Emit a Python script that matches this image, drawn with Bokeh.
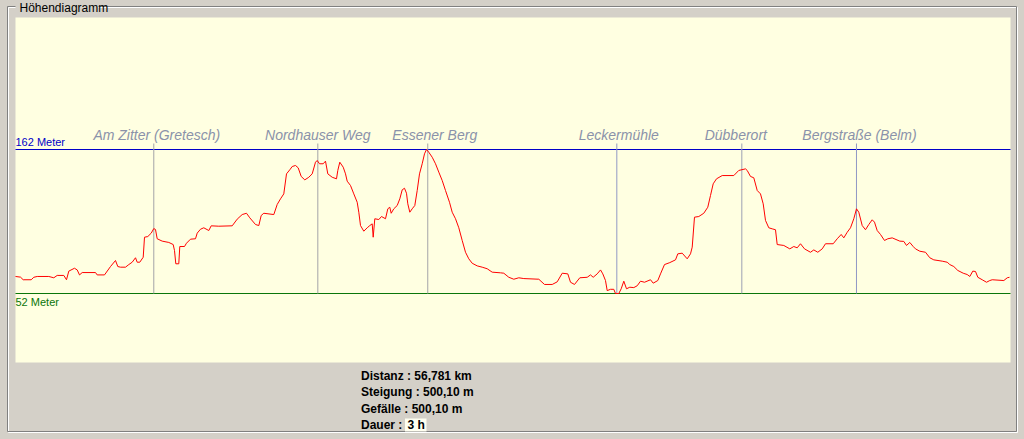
from bokeh.plotting import figure
from bokeh.models import Range1d, ColumnDataSource, GlobalInlineStyleSheet
from bokeh.core.properties import value
from bokeh.embed import file_html
from bokeh.resources import INLINE

# ---------------- data ----------------
title = "Höhendiagramm"
dist_km = [0.000, 0.286, 0.440, 0.897, 1.045, 1.240, 1.902, 2.188, 2.382, 2.759,
           2.913, 3.045, 3.370, 3.525, 3.656, 3.810, 4.570, 4.667, 5.084, 5.427,
           5.712, 5.844, 5.998, 6.284, 6.472, 6.666, 6.855, 6.952, 7.100, 7.295,
           7.369, 7.557, 7.752, 7.900, 7.997, 8.094, 8.380, 8.757, 9.008, 9.083,
           9.157, 9.328, 9.385, 9.654, 9.768, 9.997, 10.282, 10.379, 10.568, 10.756,
           11.042, 11.179, 11.613, 12.379, 12.664, 12.950, 13.196, 13.384, 13.710, 13.899,
           14.035, 14.184, 14.755, 14.949, 15.138, 15.326, 15.481, 15.669, 15.806, 15.995,
           16.149, 16.320, 16.526, 16.754, 16.949, 17.137, 17.234, 17.366, 17.577, 17.708,
           17.840, 18.091, 18.337, 18.411, 18.525, 18.720, 18.851, 18.948, 19.137, 19.325,
           19.519, 19.611, 19.708, 19.896, 20.091, 20.239, 20.376, 20.433, 20.525, 20.753,
           20.907, 21.136, 21.267, 21.381, 21.461, 21.610, 21.804, 21.953, 22.090, 22.221,
           22.335, 22.410, 22.524, 22.661, 22.810, 22.947, 23.078, 23.232, 23.364, 23.478,
           23.609, 23.804, 23.992, 24.181, 24.375, 24.563, 24.792, 24.946, 25.135, 25.323,
           25.517, 25.706, 25.894, 26.088, 26.374, 26.659, 26.945, 27.231, 27.705, 27.893,
           28.179, 28.465, 28.750, 29.036, 29.893, 30.219, 30.659, 30.944, 31.230, 31.550,
           31.704, 31.932, 32.235, 32.658, 32.846, 33.000, 33.229, 33.418, 33.549, 33.703,
           33.800, 33.989, 34.177, 34.274, 34.463, 34.600, 34.749, 34.903, 35.092, 35.320,
           35.514, 35.703, 35.931, 36.274, 36.428, 36.691, 36.845, 37.073, 37.376, 37.702,
           37.833, 38.085, 38.370, 38.559, 38.656, 38.787, 39.032, 39.318, 39.546, 39.701,
           39.855, 40.044, 40.369, 41.032, 41.317, 41.700, 41.797, 41.986, 42.174, 42.369,
           42.557, 42.711, 42.843, 43.031, 43.225, 43.414, 43.511, 43.888, 44.231, 44.459,
           44.653, 44.842, 45.071, 45.413, 45.602, 45.830, 46.082, 46.270, 46.710, 46.939,
           47.167, 47.316, 47.510, 47.699, 47.887, 48.041, 48.172, 48.367, 48.555, 48.744,
           48.938, 49.069, 49.223, 49.412, 49.640, 49.829, 50.080, 50.514, 50.743, 50.897,
           51.085, 51.280, 51.411, 51.657, 51.983, 52.228, 52.457, 52.937, 53.222, 53.371,
           53.600, 53.828, 54.137, 54.365, 54.514, 54.685, 54.839, 54.971, 55.222, 55.468,
           55.656, 55.794, 56.457, 56.651, 56.781]
elev_m = [65.0, 64.5, 62.5, 62.5, 64.4, 65.0, 65.0, 64.0, 65.8, 65.8,
          62.5, 69.1, 71.3, 70.0, 66.2, 68.0, 68.0, 66.2, 66.2, 72.6,
          77.2, 72.6, 72.1, 72.1, 74.1, 75.9, 79.3, 75.9, 75.9, 79.7,
          95.0, 95.5, 98.1, 101.6, 100.9, 93.8, 92.0, 91.0, 89.4, 84.8,
          74.7, 74.7, 87.9, 87.9, 90.4, 93.5, 93.8, 98.1, 101.1, 102.2,
          100.1, 103.7, 103.4, 103.7, 108.8, 112.3, 113.3, 109.8, 104.7, 103.9,
          111.6, 113.3, 112.3, 120.0, 124.3, 128.1, 143.4, 146.5, 149.0, 149.8,
          148.0, 141.4, 138.8, 140.8, 143.4, 152.3, 153.6, 151.1, 151.1, 153.1,
          143.4, 140.8, 139.6, 146.0, 152.3, 148.5, 143.4, 137.8, 134.5, 128.1,
          121.7, 114.1, 103.9, 99.6, 102.2, 103.9, 105.2, 95.0, 109.1, 108.5,
          110.8, 109.1, 116.7, 117.9, 113.3, 116.7, 119.2, 124.3, 131.2, 132.4,
          128.6, 120.5, 114.1, 116.7, 119.2, 130.7, 143.4, 151.1, 158.7, 162.0,
          159.9, 156.1, 151.1, 144.7, 138.3, 130.7, 121.7, 114.1, 109.1, 102.2,
          92.5, 83.5, 78.5, 75.1, 73.1, 72.1, 70.9, 68.3, 67.8, 67.5,
          64.4, 62.9, 64.0, 63.4, 62.9, 58.9, 58.9, 60.9, 67.5, 67.0,
          60.6, 58.9, 64.0, 64.4, 66.2, 64.4, 67.0, 70.0, 67.0, 61.9,
          54.2, 55.2, 55.2, 52.0, 52.0, 55.6, 61.4, 55.6, 56.8, 56.5,
          57.9, 61.4, 60.6, 62.5, 59.9, 61.9, 67.0, 74.1, 75.6, 77.7,
          82.3, 82.8, 78.5, 82.3, 87.4, 110.3, 110.8, 113.3, 117.9, 126.9,
          135.8, 139.6, 142.1, 142.1, 146.0, 147.2, 146.0, 141.4, 140.4, 130.7,
          128.1, 120.5, 107.8, 102.2, 101.4, 100.7, 89.4, 88.7, 86.1, 87.9,
          86.9, 90.0, 86.1, 83.5, 85.3, 83.5, 86.1, 90.0, 90.0, 93.8,
          97.1, 94.5, 98.8, 102.2, 109.1, 116.7, 114.1, 103.9, 100.7, 104.7,
          108.3, 106.5, 100.1, 97.1, 92.5, 93.8, 94.5, 92.0, 91.8, 88.7,
          91.0, 87.9, 86.1, 84.3, 83.5, 79.3, 77.7, 76.7, 75.9, 74.1,
          72.6, 69.6, 67.5, 66.5, 65.0, 69.1, 68.8, 64.4, 62.5, 60.6,
          61.9, 62.5, 61.9, 64.0, 64.4]
waypoint_names = ["Am Zitter (Gretesch)", "Nordhauser Weg", "Essener Berg",
                  "Leckermühle", "Dübberort", "Bergstraße (Belm)"]
waypoint_km = [7.90, 17.27, 23.55, 34.35, 41.49, 48.04]
waypoint_colors = ["#A4A4A8", "#A4A4A8", "#A4A4A8", "#9098C4", "#9CA0B4", "#9098C4"]
label_shift_px = [3, 0, 7, 2, -6, 3]
elev_max = 162
elev_min = 52
total_km = 56.781
climb_m = 500.10
descent_m = 500.10
duration_h = 3

# ---------------- layout helpers ----------------
W, H = 1024, 439
PX_L, PX_R = 15.0, 1009.0
PY_MAX, PY_MIN = 149.0, 293.0
SX = (PX_R - PX_L) / total_km
SY = (PY_MIN - PY_MAX) / (elev_max - elev_min)
TDY = -5  # text baseline correction (px)


def X(px):
    return (px - PX_L) / SX


def Y(py):
    return elev_max - (py - PY_MAX) / SY


BG = "#D4D0C8"
PANEL = "#FFFFE1"
FONT = value("Liberation Sans")

p = figure(width=W, height=H, x_range=Range1d(X(0), X(W)), y_range=Range1d(Y(H), Y(0)),
           output_backend="svg", toolbar_location=None, x_axis_type=None, y_axis_type=None,
           min_border=0)
p.outline_line_color = None
p.background_fill_color = BG
p.border_fill_color = BG
p.grid.visible = False
p.stylesheets = [GlobalInlineStyleSheet(
    css="html, body { margin:0 !important; padding:0; background:#D4D0C8; overflow:hidden; }")]


def hline(px0, px1, py, color):
    p.segment(x0=[X(px0)], y0=[Y(py)], x1=[X(px1)], y1=[Y(py)], line_color=color, line_width=1)


def vline(px, py0, py1, color):
    p.segment(x0=[X(px)], y0=[Y(py0)], x1=[X(px)], y1=[Y(py1)], line_color=color, line_width=1)


# group box (etched border)
for off, col in ((1.0, "#FFFFFF"), (0.0, "#808080")):
    L, T, R, B = 7 + off, 6 + off, 1016 + off, 431 + off
    hline(L, 15, T, col)
    hline(98, R, T, col)
    hline(L, R, B, col)
    vline(L, T, B, col)
    vline(R, T, B, col)

p.text(x=[X(19)], y=[Y(12)], text=[title], text_font=FONT, text_font_size="12px",
       text_color="#000000", text_baseline="alphabetic", text_align="left", y_offset=TDY)

# plot panel
p.quad(left=[X(15)], right=[X(1010)], top=[Y(17)], bottom=[Y(362)],
       fill_color=PANEL, line_color=None)

# reference lines
p.segment(x0=[X(15)], x1=[X(1010)], y0=[elev_max], y1=[elev_max], line_color="#0000C8", line_width=1)
p.segment(x0=[X(15)], x1=[X(1010)], y0=[elev_min], y1=[elev_min], line_color="#0A760A", line_width=1)
p.text(x=[0], y=[elev_max], text=[f"{elev_max} Meter"], text_font=FONT, text_font_size="11px",
       text_color="#0000C8", text_baseline="alphabetic", y_offset=-3 + TDY)
p.text(x=[0], y=[elev_min], text=[f"{elev_min} Meter"], text_font=FONT, text_font_size="11px",
       text_color="#0A760A", text_baseline="alphabetic", y_offset=13 + TDY)

# waypoints
wsrc = ColumnDataSource(dict(x=waypoint_km, name=waypoint_names, color=waypoint_colors,
                             lx=[k + s / SX for k, s in zip(waypoint_km, label_shift_px)],
                             y0=[elev_min] * len(waypoint_km),
                             y1=[elev_max + 6 / SY] * len(waypoint_km)))
p.segment(x0="x", x1="x", y0="y0", y1="y1", line_color="color", line_width=1, source=wsrc)
p.text(x="lx", y="y1", text="name", source=wsrc, text_font=FONT, text_font_size="14px",
       text_font_style="italic", text_color="#8A92AA", text_align="center",
       text_baseline="alphabetic", y_offset=-4 + TDY)

# profile
p.line(dist_km, elev_m, line_color="#FF0000", line_width=1)

# statistics
fmt = lambda v, d: f"{v:.{d}f}".replace(".", ",")
stats = [f"Distanz : {fmt(total_km, 3)} km", f"Steigung : {fmt(climb_m, 2)} m",
         f"Gefälle : {fmt(descent_m, 2)} m", "Dauer :"]
base_py = [380, 396.5, 413, 429]
p.quad(left=[X(404.5)], right=[X(426)], top=[Y(418)], bottom=[Y(431)],
       fill_color="#FFFFF0", line_color=None)
p.text(x=[X(360.5)] * 4, y=[Y(b) for b in base_py], text=stats, text_font=FONT,
       text_font_size="12px", text_font_style="bold", text_color="#000000",
       text_baseline="alphabetic", y_offset=TDY)
p.text(x=[X(407)], y=[Y(429)], text=[f"{duration_h} h"], text_font=FONT,
       text_font_size="12px", text_font_style="bold", text_color="#000000",
       text_baseline="alphabetic", y_offset=TDY)

open("out.html", "w").write(file_html(p, INLINE))
